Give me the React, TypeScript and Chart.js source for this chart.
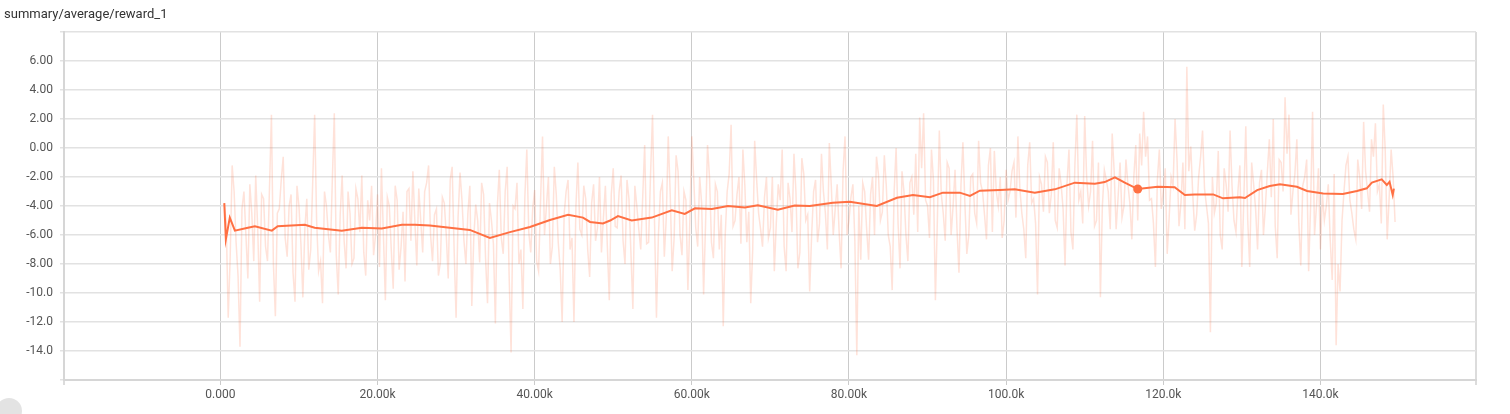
import React, { useEffect, useRef } from "react";
import { Chart, registerables } from "chart.js";

Chart.register(...registerables);

const TITLE = "summary/average/reward_1";

// raw series: RAW_VALUES at RAW_START + i*RAW_INTERVAL, RAW_MID_VALUES half an interval later
const RAW_START = 500;
const RAW_INTERVAL = 500;
const RAW_VALUES: number[] = [
  -3.8, -11.7, -1.2, -6.5, -13.7, -3.0, -9.0, -4.5, -1.9, -10.6,
  -3.5, -7.8, 2.3, -11.6, -4.2, -0.6, -7.5, -3.2, -10.6, -4.0,
  -10.3, -3.5, -7.0, 2.3, -8.5, -10.7, -4.0, -7.2, 2.4, -10.1,
  -1.9, -8.3, -4.5, -7.6, -3.5, -1.9, -8.8, -5.0, -7.4, -3.2,
  -1.4, -10.5, -4.0, -9.7, -3.6, -6.8, -9.2, -2.8, -1.6, -8.1,
  -5.0, -3.0, -1.2, -7.8, -4.2, -7.9, -3.8, -9.0, -1.3, -11.7,
  -1.7, -6.4, -4.5, -10.9, -3.9, -7.9, -3.2, -10.7, -5.0, -12.1,
  -1.5, -7.3, -1.3, -14.1, -4.2, -8.0, -11.1, -0.1, -7.2, -2.9,
  -8.5, 0.8, -4.0, -8.0, -1.3, -6.5, -12.0, -3.0, -7.0, -12.0,
  -1.0, -6.0, -3.5, -8.9, -2.5, -5.5, -7.2, -2.6, -10.5, -1.4,
  -5.5, -1.9, -8.0, -3.5, -11.1, -4.0, -7.0, 0.2, -6.5, 2.3,
  -11.7, -3.0, -7.5, 0.8, -8.5, -0.5, -6.0, -3.0, -9.8, 0.8,
  -5.5, -2.0, -10.1, 0.2, -6.5, -2.5, -7.0, -12.3, -3.0, 1.6,
  -5.0, -2.0, -0.1, -6.5, -10.7, 0.5, -4.5, -6.8, -2.0, -5.5,
  -8.5, -2.5, -0.1, -8.5, -3.5, -0.4, -8.3, -0.7, -5.0, -9.9,
  -3.0, -6.5, -0.4, -4.5, 0.35, -6.0, -2.5, -8.3, 0.8, -5.0,
  -2.5, -14.3, -7.7, -3.0, -7.7, -2.0, -0.6, -5.0, -0.5, -6.0,
  -9.8, 0.0, -8.3, -3.0, -7.8, -2.0, -0.4, 2.1, 2.4, -4.0,
  -0.1, -10.5, 1.2, -4.5, -1.0, -6.0, -1.5, -8.6, 0.4, -7.3,
  -2.0, -4.5, 0.5, -3.0, -6.3, 0.0, -0.2, -4.0, -6.2, -1.5,
  -3.0, -1.0, 0.8, -4.5, -7.6, 0.4, -3.5, -10.1, -2.5, -0.6,
  -4.5, 0.4, -5.5, -2.5, -8.1, -0.1, -7.0, 2.3, -3.0, 2.2,
  -4.0, 0.5, -5.0, -10.3, -1.5, -3.0, 1.0, -5.6, -1.0, -4.0,
  -2.5, -6.3, 0.2, 1.0, 2.5, 0.8, -3.5, -8.2, -0.1, -3.0,
  -7.3, -2.0, 2.0, -5.4, -1.0, 5.6, 0.1, -5.7, -2.0, 1.2,
  -4.0, -12.7, -4.5, -0.2, -7.0, -2.5, 1.2, -5.0, -3.0, -8.2,
  1.5, -8.2, -2.5, -7.0, -1.5, -4.0, 0.6, 2.0, -7.6, -1.0,
  3.5, 2.3, -3.0, 0.6, -8.1, -2.0, -8.5, 2.5, -4.0, -7.0,
  -5.0, -2.5, -9.1, -13.6, -9.9, -3.0, -0.6, -4.5, -6.3, -2.0,
  1.8, -3.0, 0.6, 1.7, -2.5, 3.0, -6.3, -0.1, -5.1,
];
const RAW_MID_VALUES: number[] = [
  -5.2, -7.5, -3.0, -8.8, -4.2, -6.0, -2.5, -7.8, -5.5, -3.2,
  -6.8, -2.8, -8.0, -4.5, -2.2, -6.2, -4.0, -8.6, -2.6, -6.6,
  -5.6, -8.4, -2.4, -5.0, -7.8, -3.0, -6.0, -2.2, -7.4, -4.6,
  -6.4, -3.0, -8.0, -2.8, -5.8, -7.2, -3.6, -2.6, -6.0, -8.2,
  -6.0, -3.4, -7.0, -2.6, -8.4, -4.4, -3.0, -6.4, -5.0, -2.8,
  -7.2, -2.4, -6.0, -4.6, -8.8, -3.4, -6.0, -2.2, -7.0, -4.8,
  -3.6, -8.0, -2.6, -6.2, -5.0, -2.4, -7.6, -3.8, -6.6, -4.0,
  -6.2, -3.0, -8.8, -4.0, -2.4, -7.0, -3.4, -5.8, -4.2, -7.8,
  -3.6, -6.0, -2.0, -6.8, -3.2, -8.4, -4.6, -2.2, -6.2, -4.0,
  -5.6, -2.6, -7.0, -3.8, -6.4, -2.0, -4.8, -6.8, -3.2, -5.4,
  -3.0, -6.4, -2.2, -7.2, -2.6, -5.6, -3.4, -6.6, -1.8, -5.0,
  -6.0, -2.4, -4.8, -3.2, -6.2, -1.6, -7.4, -3.6, -5.0, -2.2,
  -6.8, -3.8, -5.2, -2.0, -7.6, -3.0, -4.6, -6.0, -1.8, -5.4,
  -3.2, -6.6, -2.6, -4.4, -7.0, -2.2, -5.6, -3.4, -6.2, -2.0,
  -5.2, -3.6, -6.8, -2.4, -5.8, -3.0, -7.2, -1.8, -4.6, -6.0,
  -2.2, -5.2, -3.0, -7.0, -2.6, -4.2, -5.8, -1.6, -6.0, -3.4,
  -6.4, -4.0, -2.4, -5.6, -3.2, -6.0, -1.8, -4.4, -2.6, -6.8,
  -3.0, -5.2, -1.6, -6.0, -2.4, -4.6, -5.8, -1.4, -3.6, -6.2,
  -2.2, -5.0, -3.2, -6.4, -1.4, -4.0, -5.6, -2.6, -3.8, -6.0,
  -1.8, -5.2, -2.4, -4.6, -1.2, -5.8, -3.0, -2.0, -5.0, -3.6,
  -1.6, -4.8, -2.8, -5.6, -1.2, -3.8, -5.2, -2.0, -4.4, -1.0,
  -3.2, -5.0, -1.4, -4.2, -2.4, -5.8, -1.2, -3.6, -5.2, -2.0,
  -3.0, -5.4, -1.0, -4.0, -2.2, -5.6, -1.6, -3.4, -4.8, -0.8,
  -3.8, -2.0, -5.0, -1.2, -0.6, -3.6, -5.2, -2.2, -4.2, -1.4,
  -4.8, -2.6, -0.8, -3.8, -5.6, -1.6, -3.2, -4.6, -0.6, -2.8,
  -5.2, -2.0, -3.8, -6.0, -1.4, -4.4, -2.6, -5.8, -1.2, -3.6,
  -5.0, -1.0, -4.2, -2.4, -6.0, -1.6, -3.4, -5.4, -0.8, -3.0,
  -0.4, -4.6, -1.8, -5.2, -2.6, -0.8, -4.0, -6.0, -1.4, -3.2,
  -4.0, -6.4, -1.8, -8.0, -5.0, -1.2, -3.6, -5.6, -0.8, -4.2,
  -1.6, -4.4, -0.6, -3.0, -5.2, -0.2, -3.4, -2.0,
];

const SMOOTH_STEPS: number[] = [
  500, 700, 1200, 1850, 3500, 4400, 6550, 7300, 10750, 12000,
  15450, 18000, 20550, 23100, 24750, 26650, 29200, 31750, 34300, 36850,
  39400, 41950, 44250, 46150, 47050, 48700, 49600, 50600, 52350, 54900,
  57450, 59100, 60400, 62550, 64600, 66750, 68400, 70950, 73100, 75000,
  77950, 80100, 83550, 86100, 88150, 90300, 91950, 94100, 95400, 96650,
  99200, 101100, 103650, 106200, 108750, 111300, 112550, 113850, 115100, 116750,
  119300, 121450, 122750, 124000, 126350, 127600, 129750, 130400, 131950, 133550,
  134850, 137000, 138300, 140350, 142850, 144650, 145900, 146550, 147800, 148450,
  148800, 149200, 149350,
];
const SMOOTH_VALUES: number[] = [
  -3.8, -6.3, -4.8, -5.7, -5.5, -5.4, -5.7, -5.4, -5.3, -5.5,
  -5.7, -5.5, -5.55, -5.3, -5.3, -5.35, -5.5, -5.65, -6.2, -5.8,
  -5.45, -4.97, -4.6, -4.8, -5.1, -5.2, -5.0, -4.7, -5.0, -4.8,
  -4.3, -4.55, -4.16, -4.2, -4.0, -4.1, -3.95, -4.25, -3.97, -4.0,
  -3.77, -3.7, -4.0, -3.43, -3.24, -3.4, -3.08, -3.08, -3.3, -2.94,
  -2.9, -2.85, -3.08, -2.85, -2.39, -2.46, -2.35, -2.02, -2.39, -2.83,
  -2.67, -2.7, -3.24, -3.2, -3.2, -3.47, -3.4, -3.45, -2.9, -2.62,
  -2.5, -2.67, -2.96, -3.13, -3.17, -2.96, -2.78, -2.39, -2.16, -2.55,
  -2.33, -3.24, -2.8,
];

const HOVER_STEP = 116750;
const HOVER_VALUE = -2.83;

const X_MIN = -19900;
const X_MAX = 159800;
const X_TICK_VALUES = [X_MIN, 0, 20000, 40000, 60000, 80000, 100000, 120000, 140000, X_MAX];
const X_TICK_LABELS = ["", "0.000", "20.00k", "40.00k", "60.00k", "80.00k", "100.0k", "120.0k", "140.0k", ""];

const Y_MIN = -16;
const Y_MAX = 8;
const Y_TICK_VALUES = [-16, -14, -12, -10, -8, -6, -4, -2, 0, 2, 4, 6, 8];
const Y_TICK_LABELS = ["", "-14.0", "-12.0", "-10.0", "-8.00", "-6.00", "-4.00", "-2.00", "0.00", "2.00", "4.00", "6.00", ""];

const FONT = "Roboto, 'Noto Sans', sans-serif";

export default function App() {
  const canvasRef = useRef<HTMLCanvasElement | null>(null);

  useEffect(() => {
    const canvas = canvasRef.current;
    if (!canvas) return;
    const rawData: { x: number; y: number }[] = [];
    RAW_VALUES.forEach((v, i) => {
      rawData.push({ x: RAW_START + i * RAW_INTERVAL, y: v });
      if (i < RAW_MID_VALUES.length) {
        rawData.push({ x: RAW_START + i * RAW_INTERVAL + RAW_INTERVAL / 2, y: RAW_MID_VALUES[i] });
      }
    });
    const smoothData = SMOOTH_STEPS.map((s, i) => ({ x: s, y: SMOOTH_VALUES[i] }));

    const chart = new Chart(canvas, {
      type: "line",
      data: {
        datasets: [
          {
            data: [{ x: HOVER_STEP, y: HOVER_VALUE }],
            showLine: false,
            pointRadius: 4.5,
            pointBackgroundColor: "#ff7043",
            pointBorderWidth: 0,
            order: 0,
          },
          {
            data: smoothData,
            borderColor: "#ff7043",
            borderWidth: 2,
            pointRadius: 0,
            tension: 0,
            order: 1,
          },
          {
            data: rawData,
            borderColor: "rgba(255,112,67,0.2)",
            borderWidth: 1.5,
            pointRadius: 0,
            tension: 0,
            order: 2,
          },
        ],
      },
      options: {
        animation: false,
        responsive: false,
        maintainAspectRatio: false,
        events: [],
        layout: { padding: { top: 32, right: 34, left: 0, bottom: 0 } },
        plugins: { legend: { display: false }, tooltip: { enabled: false }, title: { display: false } },
        scales: {
          x: {
            type: "linear",
            min: X_MIN,
            max: X_MAX,
            afterBuildTicks: (scale: any) => {
              scale.ticks = X_TICK_VALUES.map((v) => ({ value: v }));
            },
            afterFit: (scale: any) => {
              scale.height = 34;
            },
            ticks: {
              autoSkip: false,
              maxRotation: 0,
              padding: 3,
              color: "#555",
              font: { family: FONT, size: 12 },
              callback: (_v: any, i: number) => X_TICK_LABELS[i],
            },
            grid: {
              color: (ctx: any) =>
                ctx.tick && (ctx.tick.value === X_MIN || ctx.tick.value === X_MAX) ? "#dcdcdc" : "#cbcbcb",
              lineWidth: (ctx: any) =>
                ctx.tick && (ctx.tick.value === X_MIN || ctx.tick.value === X_MAX) ? 2 : 1,
              tickLength: 5,
            },
            border: { display: true, color: "#d6d6d6", width: 2 },
          },
          y: {
            type: "linear",
            min: Y_MIN,
            max: Y_MAX,
            afterBuildTicks: (scale: any) => {
              scale.ticks = Y_TICK_VALUES.map((v) => ({ value: v }));
            },
            afterFit: (scale: any) => {
              scale.width = 64;
            },
            ticks: {
              autoSkip: false,
              padding: 7,
              color: "#555",
              font: { family: FONT, size: 12 },
              callback: (_v: any, i: number) => Y_TICK_LABELS[i],
            },
            grid: {
              color: "#e2e2e2",
              lineWidth: 1.5,
              tickLength: 4,
            },
            border: { display: true, color: "#d6d6d6", width: 2 },
          },
        },
      },
    } as any);
    return () => chart.destroy();
  }, []);

  return (
    <div
      style={{
        position: "fixed",
        left: 0,
        top: 0,
        width: 1510,
        height: 414,
        background: "#fff",
        overflow: "hidden",
      }}
    >
      <canvas ref={canvasRef} width={1510} height={414} style={{ position: "absolute", left: 0, top: 0, width: 1510, height: 414 }} />
      <div
        style={{
          position: "absolute",
          left: 4,
          top: 6,
          fontFamily: FONT,
          fontSize: 13,
          color: "#333",
          whiteSpace: "nowrap",
        }}
      >
        {TITLE}
      </div>
      <div
        style={{
          position: "absolute",
          left: -4,
          top: 398,
          width: 26,
          height: 26,
          borderRadius: "50%",
          background: "#e3e3e3",
        }}
      />
    </div>
  );
}
